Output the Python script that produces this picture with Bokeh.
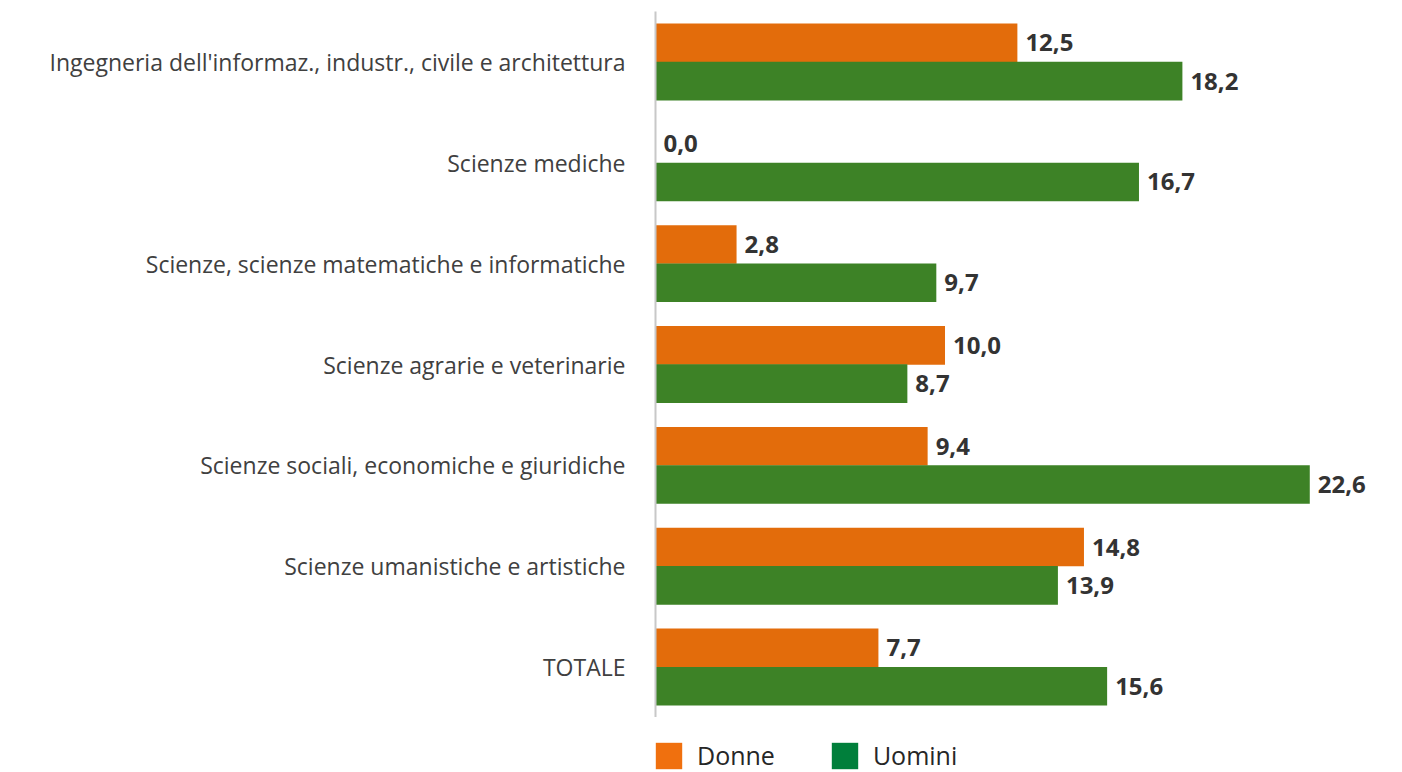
from bokeh.plotting import figure
from bokeh.layouts import column
from bokeh.models import ColumnDataSource, Range1d, FactorRange, Legend, LegendItem
from bokeh.transform import dodge
from bokeh.core.properties import value
from bokeh.embed import file_html
from bokeh.resources import INLINE

categories = [
    "Ingegneria dell'informaz., industr., civile e architettura",
    "Scienze mediche",
    "Scienze, scienze matematiche e informatiche",
    "Scienze agrarie e veterinarie",
    "Scienze sociali, economiche e giuridiche",
    "Scienze umanistiche e artistiche",
    "TOTALE",
]
donne = [12.5, 0.0, 2.8, 10.0, 9.4, 14.8, 7.7]
uomini = [18.2, 16.7, 9.7, 8.7, 22.6, 13.9, 15.6]
series_names = ["Donne", "Uomini"]

FONT = "Open Sans"
ORANGE = "#E36C0B"
GREEN = "#3D8226"
W = 1400

def fmt(v):
    return f"{v:.1f}".replace(".", ",")

src = ColumnDataSource(dict(
    cat=categories,
    donne=donne,
    uomini=uomini,
    donne_lbl=[fmt(v) for v in donne],
    uomini_lbl=[fmt(v) for v in uomini],
))

p = figure(
    width=W, height=717,
    y_range=FactorRange(*reversed(categories)),
    x_range=Range1d(0, 25.25),
    output_backend="svg", toolbar_location=None,
    min_border_left=655, min_border_right=14, min_border_top=11, min_border_bottom=0,
)
p.outline_line_color = None
p.xgrid.visible = False
p.ygrid.visible = False
p.xaxis.visible = False

p.hbar(y=dodge("cat", 0.19, range=p.y_range), right="donne", left=0, height=0.383,
       fill_color=ORANGE, line_color=None, source=src)
p.hbar(y=dodge("cat", -0.19, range=p.y_range), right="uomini", left=0, height=0.383,
       fill_color=GREEN, line_color=None, source=src)

for col, off in (("donne", 0.19), ("uomini", -0.19)):
    p.text(x=col, y=dodge("cat", off, range=p.y_range), text=col + "_lbl", source=src,
           x_offset=8, text_align="left", text_baseline="middle",
           text_font=value(FONT), text_font_style="bold", text_font_size="24px",
           text_color="#333333")

ax = p.yaxis[0]
ax.axis_line_color = "#C8C8C8"
ax.axis_line_width = 2
ax.major_tick_line_color = None
ax.minor_tick_line_color = None
ax.major_tick_out = 0
ax.major_tick_in = 0
ax.major_label_standoff = 30
ax.major_label_text_font = FONT
ax.major_label_text_font_size = "23px"
ax.major_label_text_color = "#404040"

# legend in a small figure below
lg = figure(width=W, height=55, x_range=Range1d(0, 1), y_range=Range1d(0, 1),
            output_backend="svg", toolbar_location=None,
            min_border_left=655, min_border_right=14, min_border_top=0, min_border_bottom=0)
lg.outline_line_color = None
lg.axis.visible = False
lg.grid.visible = False
r1 = lg.hbar(y=[-5], left=[0], right=[0], height=0, fill_color="#F0700E", line_color=None)
r2 = lg.hbar(y=[-5], left=[0], right=[0], height=0, fill_color="#007F3B", line_color=None)
legend = Legend(
    items=[LegendItem(label=series_names[0], renderers=[r1]),
           LegendItem(label=series_names[1], renderers=[r2])],
    orientation="horizontal", location=(-3, 0),
    glyph_width=33, glyph_height=33, label_standoff=12, spacing=53,
    padding=0, margin=0, border_line_color=None, background_fill_alpha=0,
    label_text_font=FONT, label_text_font_size="25px", label_text_color="#262626",
    label_height=26,
)
lg.add_layout(legend, "center")

layout = column(p, lg, spacing=0)
open("out.html", "w").write(file_html(layout, INLINE))
